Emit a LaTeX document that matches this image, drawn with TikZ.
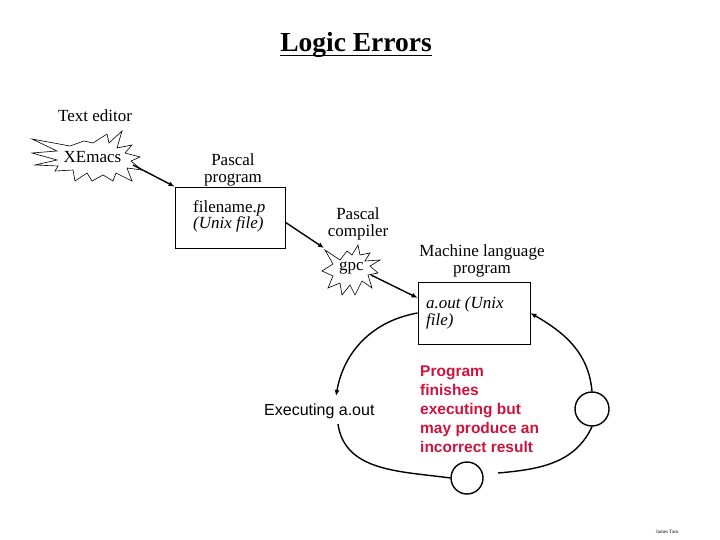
\documentclass[tikz,border=0pt]{standalone}
\usepackage{fontspec}
\setmainfont{Liberation Serif}
\setsansfont{Liberation Sans}
\usetikzlibrary{arrows.meta}
\definecolor{errred}{RGB}{204,20,60}
\newcommand\lblfont{\fontsize{17}{16.5}\selectfont}
\newcommand\titlefont{\fontsize{27.5}{30}\selectfont\bfseries}
\newcommand\execfont{\sffamily\fontsize{16}{19}\selectfont}
\newcommand\redfont{\sffamily\bfseries\fontsize{15.5}{19}\selectfont}
\tikzset{
  conn/.style={line width=1.4pt, -{Latex[length=6pt,width=5pt]}},
  looparc/.style={line width=1.4pt},
  boxnode/.style={draw, line width=0.8pt, inner sep=0pt},
  starline/.style={draw, line width=0.6pt, line join=miter},
  lbl/.style={font=\lblfont, inner sep=0pt, align=center},
  ring/.style={draw, circle, line width=1.4pt, inner sep=0pt}
}
\begin{document}
\begin{tikzpicture}[x=1pt,y=1pt]
\useasboundingbox (0,0) rectangle (720,-540);

% title
\node[font=\titlefont, inner sep=0pt, anchor=base] (title) at (356,-52) {Logic Errors};
\draw[line width=1.8pt] ([yshift=-3.5pt]title.base west) -- ([yshift=-3.5pt]title.base east);

% text editor
\node[lbl, anchor=base] (ted) at (95,-122) {Text editor};

% XEmacs star
\draw[starline] (32,-139) -- (70,-146) -- (84,-141) -- (93,-143) -- (107,-134) -- (109,-143)
  -- (122,-131) -- (117,-148) -- (132,-145) -- (125,-153) -- (140,-157) -- (131,-161)
  -- (142,-170) -- (127,-168) -- (132,-181) -- (116,-173) -- (113,-181) -- (103,-175)
  -- (92,-181) -- (87,-173) -- (75,-181) -- (73,-170) -- (55,-171) -- (58,-166)
  -- (35,-165) -- (57,-160) -- (32,-153) -- (57,-151) -- cycle;
\node[lbl, anchor=base] (xem) at (92.5,-163) {XEmacs};
\coordinate (xtip) at (133,-165);

% Pascal program
\node[lbl, anchor=north] (pprog) at (233,-154) {Pascal\\program};
\node[boxnode, minimum width=110pt, minimum height=61pt] (fbox) at (230,-217.5) {};
\node[lbl, anchor=north west, align=left] (fname) at (193,-200) {filename.\textit{p}\\\textit{(Unix file)}};

% Pascal compiler
\node[lbl, anchor=north] (pcomp) at (358,-208) {Pascal\\compiler};
\draw[starline] (325,-250) -- (340,-260) -- (347,-251) -- (352,-255) -- (358,-245) -- (360,-255)
  -- (370,-253) -- (365,-261) -- (380,-260) -- (370,-266) -- (378,-273) -- (368,-275)
  -- (372,-288) -- (362,-281) -- (355,-295) -- (350,-285) -- (342,-295) -- (340,-283)
  -- (328,-288) -- (333,-276) -- (322,-271) -- (333,-264) -- cycle;
\node[lbl, anchor=base] (gpc) at (351.5,-270) {gpc};
\coordinate (gtip) at (324,-248);
\coordinate (gout) at (371,-275);

% Machine language program
\node[lbl, anchor=north] (mlp) at (482,-245) {Machine language\\program};
\node[boxnode, minimum width=112pt, minimum height=62pt] (abox) at (474,-313) {};
\node[lbl, anchor=north west, align=left] (aout) at (426,-297) {\textit{a.out (Unix}\\\textit{file)}};

% execution loop
\node[font=\execfont, inner sep=0pt, anchor=base west] (exec) at (264,-415) {Executing a.out};
\node[font=\redfont, text=errred, inner sep=0pt, anchor=north west, align=left] (res) at (420,-366)
  {Program\\finishes\\executing but\\may produce an\\incorrect result};
\node[ring, minimum size=32pt] (bc) at (467,-478) {};
\node[ring, minimum size=34pt] (rc) at (592,-409) {};
\coordinate (e1) at (336,-396);
\coordinate (e2) at (338,-424);
\coordinate (br1) at (498,-473);

% connectors
\draw[conn] (xtip) -- (fbox.north west);
\draw[conn] (fbox.-5) -- (gtip);
\draw[conn] (gout) -- (abox.165);
\draw[conn] (abox.west) to[out=190,in=80] (e1);
\draw[looparc] (e2) to[out=-82,in=172] (bc.west);
\draw[looparc] (br1) to[out=5,in=-115] (rc.south);
\draw[conn] (rc.north) to[out=95,in=-30] (abox.east);

% signature
\node[font=\fontsize{5}{6}\selectfont, inner sep=0pt, anchor=base] (sig) at (667,-533) {James Tam};
\end{tikzpicture}
\end{document}
